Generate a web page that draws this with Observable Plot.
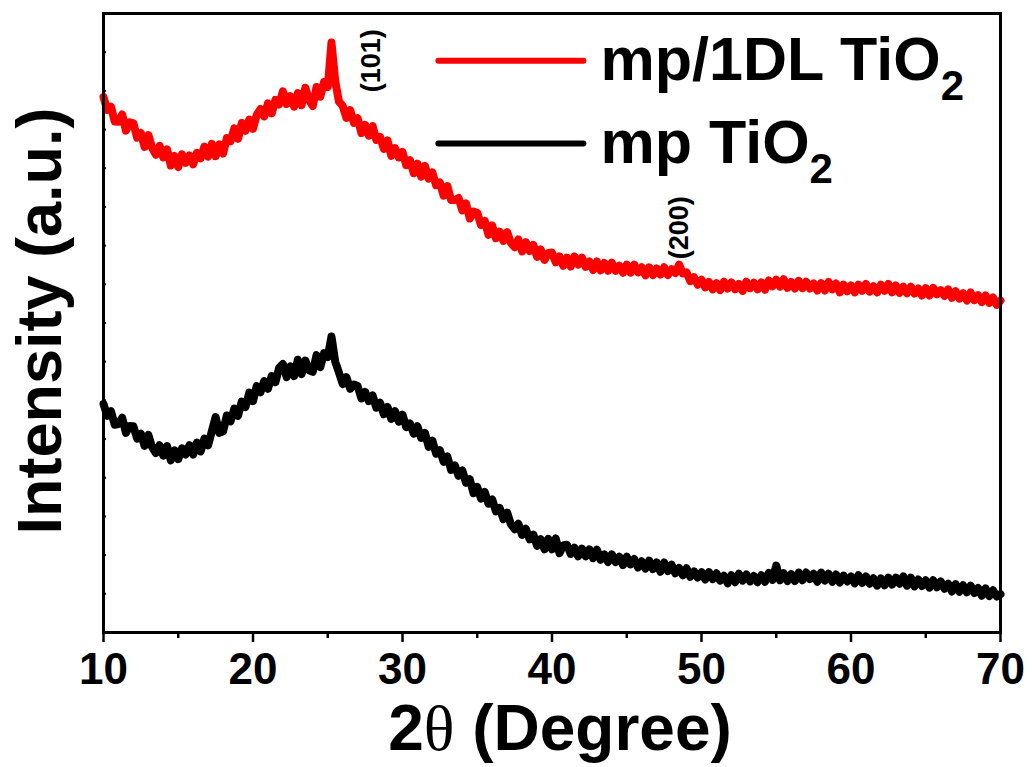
<!DOCTYPE html>
<html><head><meta charset="utf-8">
<script src="https://cdn.jsdelivr.net/npm/d3@7"></script>
<script src="https://cdn.jsdelivr.net/npm/@observablehq/plot@0.6"></script>
<style>body{margin:0;background:#fff} svg{display:block}</style>
</head><body><div id="chart"></div>
<script>
// 2θ sampling grid (degrees), step 0.25
const theta = d3.range(241).map(i => 10 + i * 0.25);

// mp/1DL TiO2 intensity (a.u.)
const mp1DL = [
1384,1351,1359,1321, 1320,1339,1297,1319, 1316,1279,1291,1255, 1286,1253,1235,1258,
1228,1249,1207,1232, 1203,1236,1214,1233, 1210,1240,1226,1256, 1230,1263,1231,1262,
1238,1278,1270,1303, 1276,1317,1297,1326, 1302,1338,1353,1334, 1368,1342,1377,1365,
1399,1366,1386,1359, 1394,1363,1408,1376, 1361,1410,1385,1423, 1410,1525,1425,1372,
1361,1330,1350,1317, 1329,1291,1312,1284, 1309,1273,1281,1250, 1272,1232,1252,1228,
1242,1208,1221,1187, 1212,1178,1206,1173, 1189,1156,1163,1129, 1154,1118,1118,1123,
1091,1109,1070,1088, 1085,1053,1064,1028, 1052,1019,1036,1012, 1035,1007,996,1016,
985,1009,986,1002, 971,990,963,981, 982,957,972,948, 969,946,972,951,
969,945,959,937, 959,936,955,935, 956,935,948,930, 951,930,951,931,
944,923,944,924, 941,925,944,924, 939,929,951,928, 931,908,918,899,
912,892,906,887, 903,885,907,889, 905,887,901,883, 907,890,904,887,
905,886,910,895, 912,894,913,891, 906,889,909,890, 907,889,902,884,
903,884,906,887, 902,879,899,882, 897,879,899,883, 901,881,895,879,
899,883,901,879, 897,878,894,877, 894,876,889,871, 890,871,891,874,
885,870,887,865, 882,863,877,858, 879,859,872,854, 871,852,866,847,
858];

// mp TiO2 intensity (a.u.)
const mp = [
591,560,572,537, 539,555,516,534, 533,501,514,482, 511,479,464,484,
457,482,445,471, 448,476,460,484, 460,491,468,501, 484,521,557,516,
520,561,546,579, 560,597,583,620, 598,637,621,650, 630,663,647,684,
694,660,688,663, 705,668,703,678, 674,717,686,722, 712,765,700,672,
642,660,630,641, 637,605,622,598, 613,581,594,564, 583,552,572,545,
563,531,540,514, 533,503,516,480, 496,462,471,441, 455,420,432,405,
419,387,396,360, 376,346,363,333, 344,313,322,293, 310,280,267,281,
252,268,241,253, 224,241,215,242, 215,243,205,225, 227,203,219,197,
217,197,215,192, 214,188,202,182, 202,182,196,174, 196,176,190,168,
184,165,186,164, 181,157,181,159, 175,153,167,148, 166,144,158,142,
156,137,156,138, 153,134,147,127, 148,130,152,134, 150,132,146,130,
148,131,154,136, 173,135,153,133, 151,133,155,135, 155,138,152,131,
155,134,152,131, 150,129,147,132, 145,127,148,128, 145,126,140,121,
140,122,142,124, 142,126,145,121, 142,119,137,120, 135,116,135,117,
132,113,126,106, 125,105,122,104, 121,102,115,95, 114,94,109,93,
99];

const xTicks = [10, 20, 30, 40, 50, 60, 70];
const xMinorTicks = [15, 25, 35, 45, 55, 65];
const yTicks = d3.range(0, 1601, 100);

const peakLabels = ["(101)", "(200)"];
const peakTheta = [27.9, 48.55];
const peakLevel = [1478, 1046];

const seriesNames = ["mp/1DL TiO", "mp TiO"];
const seriesColors = ["red", "black"];
const legendLevel = [1478, 1264];
const legendLineTheta = [32.4, 42.1];
const legendTextTheta = 43.25;

const peaks = peakLabels.map((l, i) => ({label: l, x: peakTheta[i], y: peakLevel[i]}));
const legendLines = seriesNames.flatMap((n, i) => legendLineTheta.map(t => ({name: n, x: t, y: legendLevel[i]})));
const legendText = seriesNames.map((n, i) => ({name: n, x: legendTextTheta, y: legendLevel[i]}));

const font = "Liberation Sans, Arial, Helvetica, sans-serif";

const chart = Plot.plot({
  width: 1032,
  height: 767,
  marginLeft: 103,
  marginRight: 32,
  marginTop: 13,
  marginBottom: 135,
  style: {fontFamily: font, fontWeight: "bold", background: "#fff", color: "#000"},
  x: {domain: [10, 70]},
  y: {domain: [0, 1600]},
  color: {domain: seriesNames, range: seriesColors},
  marks: [
    Plot.axisX({ticks: xTicks, tickSize: 10, tickPadding: 10, strokeWidth: 2.5, fontSize: 44, fontWeight: "bold", label: null}),
    Plot.axisX({ticks: xMinorTicks, tickSize: 6, strokeWidth: 2.5, tickFormat: () => "", label: null}),
    Plot.axisY({ticks: yTicks, tickSize: -3, strokeWidth: 2, tickFormat: () => "", label: null}),
    Plot.line(mp, {x: theta, y: mp, stroke: "black", strokeWidth: 8, strokeLinejoin: "round", strokeLinecap: "round"}),
    Plot.line(mp1DL, {x: theta, y: mp1DL, stroke: "red", strokeWidth: 8, strokeLinejoin: "round", strokeLinecap: "round"}),
    Plot.frame({stroke: "black", strokeWidth: 3}),
    Plot.text(peaks, {x: "x", y: "y", text: "label", rotate: -90, fontSize: 27, fontWeight: "bold", fill: "black"}),
    Plot.line(legendLines, {x: "x", y: "y", z: "name", stroke: "name", strokeWidth: 6, strokeLinecap: "round"}),
    Plot.text(legendText, {x: "x", y: "y", text: "name", textAnchor: "start", fontSize: 61, fontWeight: "bold", fill: "black", className: "legend-label"}),
    Plot.text(["2θ (Degree)"], {frameAnchor: "bottom", textAnchor: "middle", lineAnchor: "middle", dx: 8, dy: 97, fontSize: 64, fontWeight: "bold", fill: "black", className: "x-title"}),
    Plot.text(["Intensity (a.u.)"], {frameAnchor: "left", textAnchor: "middle", lineAnchor: "middle", rotate: -90, dx: -63, dy: -2, fontSize: 63, fontWeight: "bold", fill: "black"})
  ]
});

document.getElementById("chart").appendChild(chart);

// subscript 2 in legend labels
chart.querySelectorAll(".legend-label text").forEach(t => {
  const sub = document.createElementNS("http://www.w3.org/2000/svg", "tspan");
  sub.setAttribute("font-size", "42");
  sub.setAttribute("dy", "20");
  sub.textContent = "2";
  t.appendChild(sub);
});
// theta in serif
chart.querySelectorAll(".x-title text").forEach(t => {
  t.textContent = "";
  const ns = "http://www.w3.org/2000/svg";
  const a = document.createElementNS(ns, "tspan"); a.textContent = "2";
  const b = document.createElementNS(ns, "tspan"); b.textContent = "θ";
  b.setAttribute("font-family", "Liberation Serif, Times New Roman, serif");
  b.setAttribute("font-weight", "normal");
  const c = document.createElementNS(ns, "tspan"); c.textContent = " (Degree)";
  t.append(a, b, c);
});
</script>
</body></html>
